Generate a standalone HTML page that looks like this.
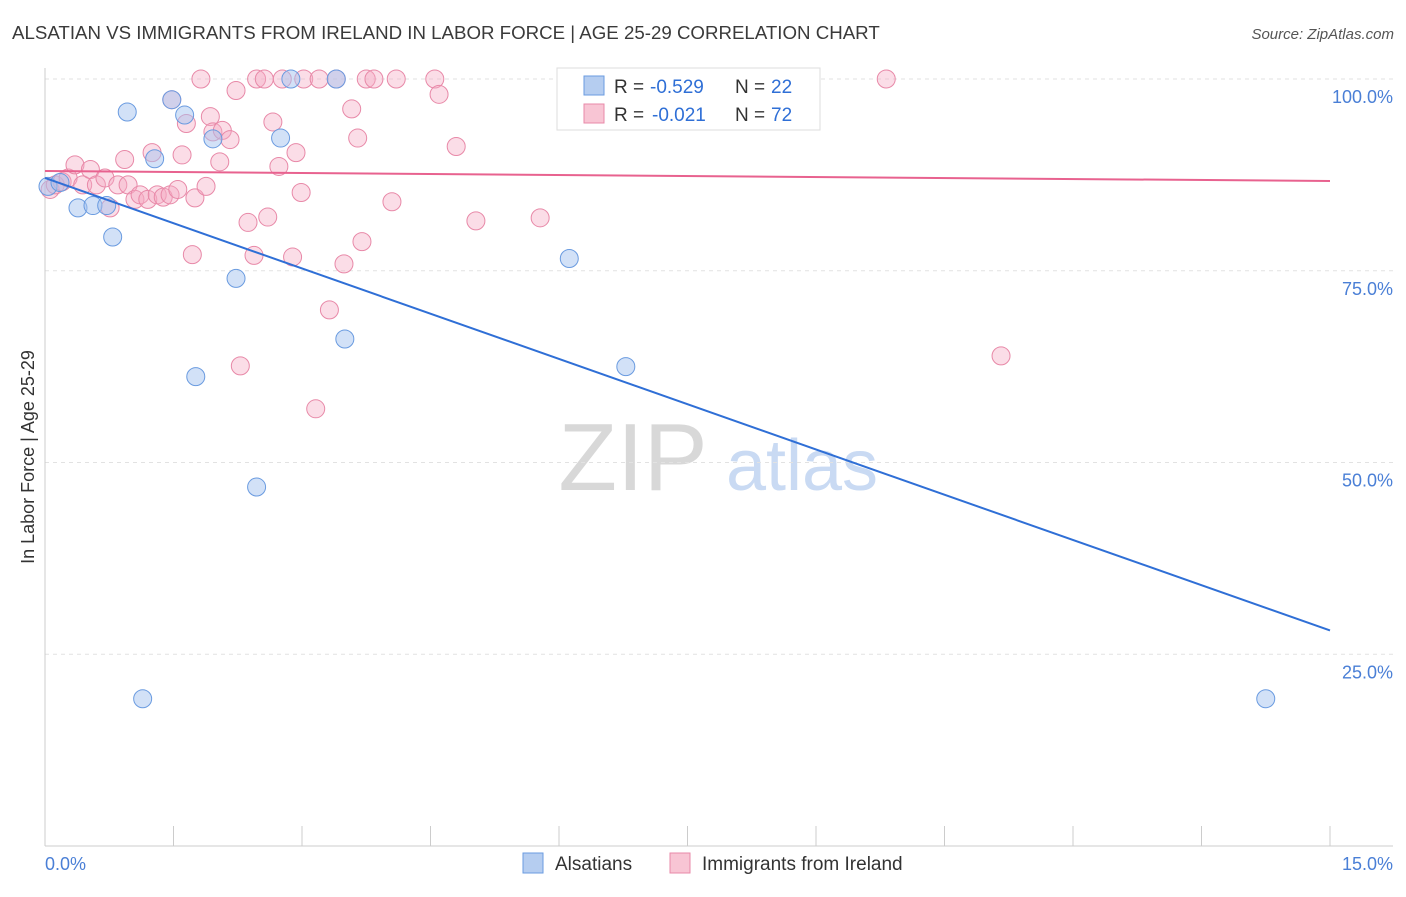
<!DOCTYPE html>
<html><head><meta charset="utf-8"><style>
body{margin:0;background:#fff;font-family:"Liberation Sans",sans-serif;}
svg text{font-family:"Liberation Sans",sans-serif;}
</style></head><body>
<svg id="chart" width="1406" height="892" xmlns="http://www.w3.org/2000/svg">
<text x="12" y="39" font-size="18.7" fill="#3a3a3a">ALSATIAN VS IMMIGRANTS FROM IRELAND IN LABOR FORCE | AGE 25-29 CORRELATION CHART</text>
<text x="1394" y="39" font-size="15" fill="#555" text-anchor="end" font-style="italic">Source: ZipAtlas.com</text>
<g>
<text x="633" y="490" font-size="96" fill="#d8d8d8" text-anchor="middle" font-family="Liberation Serif,serif">ZIP</text>
<text x="802" y="490" font-size="72" fill="#c9daf3" text-anchor="middle">atlas</text>
</g>
<g id="grid"></g>
<g id="axes"></g>
<g id="marks"></g>
<text transform="translate(34,457) rotate(-90)" font-size="18" fill="#333" text-anchor="middle">In Labor Force | Age 25-29</text>
<g>
<rect x="557" y="68" width="263" height="62" fill="#fff" stroke="#ddd"/>
<rect x="584" y="76" width="20" height="19" fill="#b5cdf0" stroke="#6a9be0"/>
<rect x="584" y="104" width="20" height="19" fill="#f8c5d4" stroke="#e889a8"/>
<text x="614" y="93" font-size="19" fill="#333">R =</text>
<text x="650" y="93" font-size="19" fill="#2f6fd6">-0.529</text>
<text x="735" y="93" font-size="19" fill="#333">N =</text>
<text x="771" y="93" font-size="19" fill="#2f6fd6">22</text>
<text x="614" y="121" font-size="19" fill="#333">R =</text>
<text x="652" y="121" font-size="19" fill="#2f6fd6">-0.021</text>
<text x="735" y="121" font-size="19" fill="#333">N =</text>
<text x="771" y="121" font-size="19" fill="#2f6fd6">72</text>
</g>
<g>
<rect x="523" y="853" width="20" height="20" fill="#b5cdf0" stroke="#6a9be0"/>
<text x="555" y="870" font-size="19" fill="#333">Alsatians</text>
<rect x="670" y="853" width="20" height="20" fill="#f8c5d4" stroke="#e889a8"/>
<text x="702" y="870" font-size="19" fill="#333">Immigrants from Ireland</text>
</g>
</svg>
<script>
const blueX=[0.035,0.175,0.385,0.56,0.72,0.79,0.96,1.28,1.48,1.63,1.96,2.23,2.75,2.87,3.40,3.50,6.12,6.78,1.76,2.47,1.14,14.25];
const blueY=[86.0,86.5,83.2,83.5,83.5,79.4,95.7,89.6,97.3,95.3,92.2,74.0,92.3,100,100,66.1,76.6,62.5,61.2,46.8,19.2,19.2];
const pinkX=[0.06,0.12,0.2,0.27,0.35,0.44,0.53,0.6,0.7,0.76,0.85,0.93,0.97,1.05,1.11,1.2,1.25,1.31,1.38,1.46,1.48,1.55,1.6,1.65,1.72,1.75,1.82,1.88,1.93,1.96,2.04,2.07,2.16,2.23,2.28,2.37,2.44,2.47,2.56,2.60,2.66,2.73,2.77,2.89,2.93,2.99,3.02,3.16,3.2,3.32,3.4,3.49,3.58,3.65,3.70,3.75,3.84,4.05,4.1,4.55,4.6,4.8,5.03,5.78,9.82,11.16];
const pinkY=[85.6,86.2,86.6,87.1,88.8,86.2,88.2,86.2,87.1,83.2,86.2,89.5,86.2,84.3,84.9,84.3,90.4,84.9,84.6,84.9,97.3,85.6,90.1,94.2,77.1,84.5,100,86.0,95.1,93.1,89.2,93.3,92.1,98.5,62.6,81.3,77.0,100,100,82.0,94.4,88.6,100,76.8,90.4,85.2,100,57.0,100,69.9,100,75.9,96.1,92.3,78.8,100,100,84.0,100,100,98.0,91.2,81.5,81.9,100,63.9];
const blueLine=[[0,87.1],[15,28.1]];
const pinkLine=[[0,88.0],[15,86.7]];
const yTicks=[100,75,50,25];
const yTickLabels=["100.0%","75.0%","50.0%","25.0%"];
const xTicks=[0,1.5,3,4.5,6,7.5,9,10.5,12,13.5,15];
const NS="http://www.w3.org/2000/svg";
const sx=v=>45+v*(1330-45)/15;
const sy=v=>846-v*(846-79)/100;
function mk(tag,attrs,parent){const e=document.createElementNS(NS,tag);for(const k in attrs)e.setAttribute(k,attrs[k]);document.getElementById(parent).appendChild(e);return e;}
yTicks.forEach((t,i)=>{
 const g=mk('line',{x1:45,x2:1393,y1:sy(t),y2:sy(t),stroke:'#e2e2e2','stroke-dasharray':'4,4'},'grid');
 
 
 const l=mk('text',{x:1393,y:sy(t)+24,'font-size':18,fill:'#4a7fd6','text-anchor':'end'},'axes');
 l.textContent=yTickLabels[i];
 
 
});
const ax=mk('line',{x1:45,x2:45,y1:68,y2:846,stroke:'#ccc'},'axes');


const bx=mk('line',{x1:45,x2:1393,y1:846,y2:846,stroke:'#ccc'},'axes');


xTicks.forEach(t=>{
 const k=mk('line',{x1:sx(t),x2:sx(t),y1:826,y2:846,stroke:'#ccc'},'axes');
 
 
});
const x0=mk('text',{x:45,y:870,'font-size':18,fill:'#4a7fd6'},'axes');x0.textContent='0.0%';


const x1=mk('text',{x:1393,y:870,'font-size':18,fill:'#4a7fd6','text-anchor':'end'},'axes');x1.textContent='15.0%';


pinkX.forEach((v,i)=>{
 const c=mk('circle',{cx:sx(v),cy:sy(pinkY[i]),r:9,fill:'rgba(245,170,195,0.4)',stroke:'#e889a8','stroke-width':1},'marks');
 
 
});
blueX.forEach((v,i)=>{
 const c=mk('circle',{cx:sx(v),cy:sy(blueY[i]),r:9,fill:'rgba(165,195,240,0.5)',stroke:'#6a9be0','stroke-width':1},'marks');
 
 
});
const bl=mk('line',{x1:sx(blueLine[0][0]),y1:sy(blueLine[0][1]),x2:sx(blueLine[1][0]),y2:sy(blueLine[1][1]),stroke:'#2f6fd6','stroke-width':2},'marks');


const pl=mk('line',{x1:sx(pinkLine[0][0]),y1:sy(pinkLine[0][1]),x2:sx(pinkLine[1][0]),y2:sy(pinkLine[1][1]),stroke:'#e8628f','stroke-width':2},'marks');


</script>
</body></html>
